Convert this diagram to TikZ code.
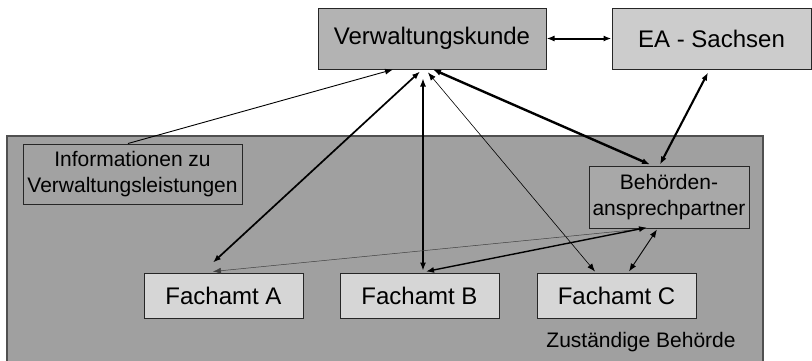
\documentclass[tikz,border=0pt]{standalone}
\usepackage{fontspec}
\setmainfont{Liberation Sans}
\usetikzlibrary{arrows.meta,calc}
\definecolor{bgarea}{HTML}{A0A0A0}
\definecolor{vkfill}{HTML}{B3B3B3}
\definecolor{eafill}{HTML}{CCCCCC}
\definecolor{famfill}{HTML}{D6D6D6}
\definecolor{behfill}{HTML}{A8A8A8}
\definecolor{infofill}{HTML}{A2A2A2}
\definecolor{areaedge}{HTML}{505050}
\tikzset{
  box/.style={draw=black!85, line width=1pt, rectangle, inner sep=0pt, align=center},
  bigfont/.style={font=\fontsize{24}{28}\selectfont},
  smallfont/.style={font=\fontsize{21}{25.5}\selectfont},
  conn/.style={-{Latex[length=8pt,width=6pt]}, black},
  bconn/.style={{Latex[length=8pt,width=6pt]}-{Latex[length=8pt,width=6pt]}, black},
}
\begin{document}
\begin{tikzpicture}[x=1pt,y=-1pt]
\useasboundingbox (0,0) rectangle (812,360);
\clip (0,0) rectangle (812,360);
\fill[white] (0,0) rectangle (812,360);
% area
\draw[fill=bgarea, draw=areaedge, line width=1.5pt] (7,136) rectangle (763,380);
% nodes
\node[box, bigfont, fill=vkfill, minimum width=228pt, minimum height=61pt] (vk) at (432,38.5) {Verwaltungskunde};
\node[box, bigfont, fill=eafill, minimum width=199pt, minimum height=61pt] (ea) at (711.5,38.5) {EA - Sachsen};
\node[box, smallfont, fill=infofill, minimum width=219pt, minimum height=60pt] (info) at (132.5,174) {Informationen zu\\Verwaltungsleistungen};
\node[box, smallfont, fill=behfill, minimum width=160pt, minimum height=62pt] (beh) at (669,197) {Behörden-\\ansprechpartner};
\node[box, bigfont, fill=famfill, minimum width=159pt, minimum height=45pt] (fa) at (223.5,295.5) {Fachamt A};
\node[box, bigfont, fill=famfill, minimum width=159pt, minimum height=45pt] (fb) at (419.5,295.5) {Fachamt B};
\node[box, bigfont, fill=famfill, minimum width=159pt, minimum height=45pt] (fc) at (616.5,295.5) {Fachamt C};
\node[smallfont, inner sep=0pt] (zb) at (641,342) {Zuständige Behörde};
% connectors
\draw[bconn, line width=2pt] (vk.east) -- (ea.west);
\draw[conn, line width=0.9pt] ($(info.north)+(-4.5,0)$) -- ($(vk.south)+(-39,0)$);
\draw[bconn, line width=1.7pt] ($(fa.north)+(-10.5,-10)$) -- ($(vk.south)+(-12,2)$);
\draw[bconn, line width=1.2pt] ($(fb.north)+(3.5,-2)$) -- ($(vk.south)+(-9,9)$);
\draw[bconn, line width=0.6pt] ($(fc.north)+(-21.5,-1)$) -- ($(vk.south)+(-4,3)$);
\draw[bconn, line width=2.4pt] ($(vk.south)+(1,0)$) -- ($(beh.north)+(-19,-1)$);
\draw[bconn, line width=2.1pt] ($(ea.south)+(-3.5,3)$) -- ($(beh.north)+(-9,-1)$);
\draw[conn, line width=0.5pt, draw=black!75] ($(beh.south)+(-22,0)$) -- ($(fa.north)+(-10.5,-1)$);
\draw[bconn, line width=1.4pt] ($(beh.south)+(-22,-1)$) -- ($(fb.north)+(6.5,-1)$);
\draw[bconn, line width=0.9pt] ($(beh.south)+(-12,1)$) -- ($(fc.north)+(12.5,-1)$);
\end{tikzpicture}
\end{document}
